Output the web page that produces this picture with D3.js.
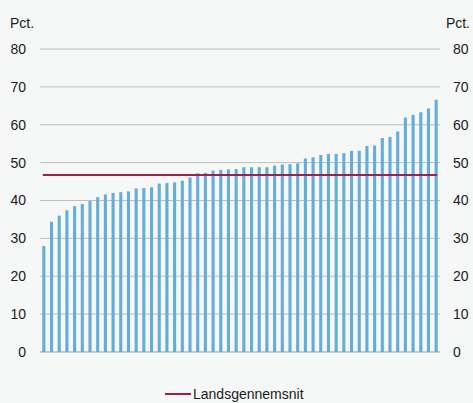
<!DOCTYPE html>
<html><head><meta charset="utf-8">
<script src="https://cdn.jsdelivr.net/npm/d3@7"></script>
<style>html,body{margin:0;padding:0;background:#f6f8f8;}svg{display:block;font-family:"Liberation Sans",Arial,sans-serif;}</style>
</head><body>
<svg id="c" width="473" height="403"></svg>
<script>
const values = [28.0,34.4,36.0,37.4,38.5,39.1,39.9,40.9,41.6,42.0,42.2,42.4,43.2,43.3,43.5,44.5,44.6,44.8,45.2,46.1,47.2,47.3,47.9,48.1,48.2,48.3,48.8,48.8,48.8,48.8,49.2,49.5,49.6,49.8,51.1,51.4,52.0,52.3,52.3,52.5,53.1,53.1,54.4,54.5,56.5,56.8,58.2,61.9,62.6,63.3,64.3,66.6];
const categories = values.map((d,i)=>"K"+(i+1));
const average = [46.7];
const yTicks = [0,10,20,30,40,50,60,70,80];
const unitLabel = "Pct.";
const legendLabel = "Landsgennemsnit";

const svg = d3.select("#c");
const L=40, R=440, T=49, B=352;
const x = d3.scaleBand().domain(categories).range([L,R]).paddingInner(0.6).paddingOuter(0.3);
const y = d3.scaleLinear().domain([0,80]).range([B,T]);

// grid
svg.append("g").selectAll("line").data(yTicks).join("line")
  .attr("x1",L).attr("x2",R).attr("y1",d=>y(d)).attr("y2",d=>y(d))
  .attr("stroke",d=>d===0?"#9a9a9a":"#bdbdbd").attr("stroke-width",1);

// axes
const la = svg.append("g").attr("transform",`translate(26,0)`)
  .call(d3.axisLeft(y).tickValues(yTicks).tickSize(0).tickPadding(0));
const ra = svg.append("g").attr("transform",`translate(453,0)`)
  .call(d3.axisRight(y).tickValues(yTicks).tickSize(0).tickPadding(0));
[la,ra].forEach(a=>{a.select(".domain").remove();a.selectAll("text").attr("font-size",14).attr("fill","#1a1a1a").attr("font-family","Liberation Sans, Arial, sans-serif");});

svg.append("text").attr("x",10).attr("y",28).attr("font-size",14).attr("fill","#1a1a1a").text(unitLabel);
svg.append("text").attr("x",470).attr("y",28).attr("text-anchor","end").attr("font-size",14).attr("fill","#1a1a1a").text(unitLabel);

// bars
svg.append("g").selectAll("rect").data(values).join("rect")
  .attr("x",(d,i)=>x(categories[i])).attr("width",x.bandwidth())
  .attr("y",d=>y(d)).attr("height",d=>y(0)-y(d)).attr("fill","#64acd9");

// average line
const x0 = x(categories[0])+x.bandwidth()/2, x1 = x(categories[categories.length-1])+x.bandwidth()/2;
svg.append("g").selectAll("line").data(average).join("line")
  .attr("x1",x0-1).attr("x2",x1+1).attr("y1",d=>y(d)).attr("y2",d=>y(d))
  .attr("stroke","#9e1f47").attr("stroke-width",2);

// legend
svg.append("line").attr("x1",165).attr("x2",191).attr("y1",394).attr("y2",394).attr("stroke","#9e1f47").attr("stroke-width",2);
svg.append("text").attr("x",193).attr("y",399).attr("font-size",14).attr("fill","#1a1a1a").text(legendLabel);
</script>
</body></html>
